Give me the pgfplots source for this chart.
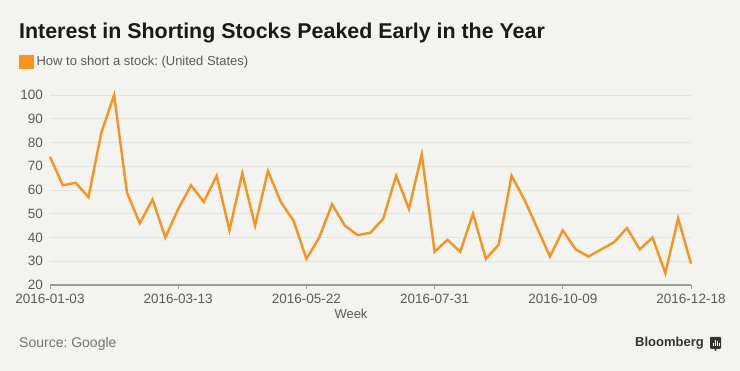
\documentclass[border=0pt]{standalone}
\usepackage{pgfplots}
\pgfplotsset{compat=1.18}
\usepackage{fontspec}
\setmainfont{Liberation Sans}
\frenchspacing
\definecolor{bgc}{HTML}{F3F3EF}
\definecolor{bbo}{HTML}{F7931E}
\definecolor{tickc}{HTML}{5A5A5A}
\definecolor{gridc}{HTML}{E4E4DF}
\definecolor{axc}{HTML}{9A9A96}
\begin{document}
\frenchspacing
\begin{tikzpicture}
\useasboundingbox (0pt,0pt) rectangle (740pt,371pt);
\fill[bgc] (0pt,0pt) rectangle (740pt,371pt);
\node[anchor=base west, inner sep=0pt, text=black!90, font=\fontsize{21.4}{25}\selectfont\bfseries] at (19pt,332.7pt) {Interest in Shorting Stocks Peaked Early in the Year};
\begin{axis}[
  at={(50pt,86pt)}, anchor=south west,
  width=641pt, height=190pt, scale only axis,
  xmin=0, xmax=50, ymin=20, ymax=100,
  axis x line=bottom, axis y line=left,
  x axis line style={-, draw=axc, line width=1.5pt},
  y axis line style={draw=none},
  xtick={0,10,20,30,40,50},
  xticklabels={2016-01-03,2016-03-13,2016-05-22,2016-07-31,2016-10-09,2016-12-18},
  ytick={20,30,...,100},
  ymajorgrids, grid style={gridc, line width=0.8pt},
  tick align=outside, major tick length=4pt,
  xtick style={draw=axc, line width=1pt},
  ytick style={draw=none},
  /pgf/number format/assume math mode=true,
  tick label style={text=tickc, font=\fontsize{13.5}{16}\selectfont},
  xticklabel style={inner sep=0pt, anchor=north, yshift=-4.5pt},
  yticklabel style={inner sep=0pt, anchor=east, xshift=-3pt},
  clip=false,
  legend style={at={(axis description cs:-0.0484,1.1737)}, anchor=west, draw=none, fill=none, inner sep=0pt, font=\fontsize{13}{16}\selectfont\frenchspacing, text=tickc, nodes={inner sep=0pt}, column sep=3pt},
  legend image code/.code={\fill[bbo] (0pt,-5.5pt) rectangle (12pt,5.5pt);},
]
\addplot[bbo, line width=2.4pt, mark=none] coordinates {
(0,74)(1,62)(2,63)(3,57)(4,84)(5,100)(6,59)(7,46)(8,56)(9,40)
(10,52)(11,62)(12,55)(13,66)(14,43)(15,67)(16,45)(17,68)(18,55)(19,47)
(20,31)(21,40)(22,54)(23,45)(24,41)(25,42)(26,48)(27,66)(28,52)(29,75)
(30,34)(31,39)(32,34)(33,50)(34,31)(35,37)(36,66)(37,56)(38,44)(39,32)
(40,43)(41,35)(42,32)(43,35)(44,38)(45,44)(46,35)(47,40)(48,25)(49,48)
(50,29)};
\addlegendentry{How to short a stock: (United States)}
\end{axis}
\node[anchor=center, inner sep=0pt, text=tickc, font=\fontsize{13}{16}\selectfont] at (351pt,57pt) {Week};
\node[anchor=west, inner sep=0pt, text=black!55, font=\fontsize{14}{16}\selectfont\frenchspacing] at (19pt,27pt) {Source: Google};
\node[anchor=east, inner sep=0pt, text=black!80, font=\fontsize{13}{16}\selectfont\bfseries] at (704pt,28pt) {Bloomberg};
\fill[black!80, rounded corners=1pt] (710pt,22pt) rectangle (721pt,34pt);
\fill[black!80] (714pt,23pt) -- (717pt,23pt) -- (715.5pt,19.5pt) -- cycle;
\fill[white] (712.5pt,25pt) rectangle (713.5pt,28pt);
\fill[white] (714.5pt,25pt) rectangle (715.5pt,31pt);
\fill[white] (716.5pt,25pt) rectangle (717.5pt,29.5pt);
\fill[white] (718.5pt,25pt) rectangle (719.2pt,27.5pt);
\end{tikzpicture}
\end{document}
